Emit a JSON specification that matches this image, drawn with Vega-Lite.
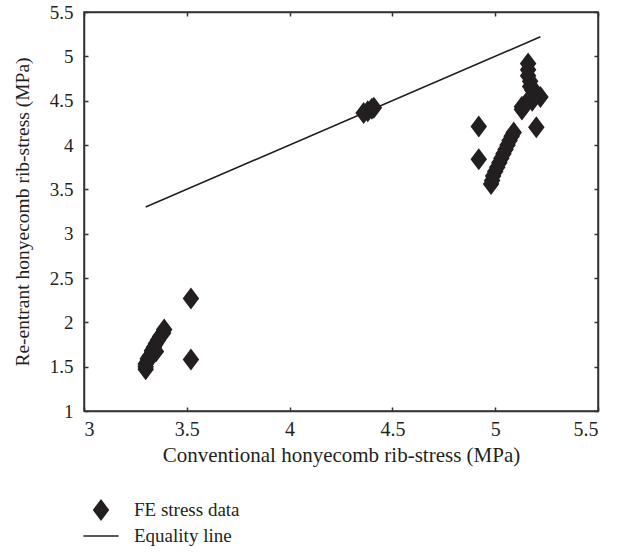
{
  "$schema": "https://vega.github.io/schema/vega-lite/v6.json",
  "width": 514,
  "height": 399,
  "autosize": "none",
  "padding": {"left": 84, "top": 12, "right": 28, "bottom": 141},
  "background": "white",
  "config": {
    "view": {"stroke": "#333333", "strokeWidth": 1.5},
    "font": "Liberation Serif",
    "axis": {
      "labelFont": "Liberation Serif",
      "titleFont": "Liberation Serif",
      "labelFontSize": 19,
      "titleFontSize": 19,
      "labelColor": "#231f20",
      "titleColor": "#231f20",
      "titleFontWeight": "normal",
      "domainColor": "#333333",
      "domainWidth": 1.5,
      "tickColor": "#333333",
      "tickWidth": 1.5,
      "tickSize": -4,
      "grid": false,
      "format": "~g"
    }
  },
  "datasets": {
    "fe": [
      {"conv": 3.30, "reent": 1.47, "series": "FE stress data"},
      {"conv": 3.30, "reent": 1.50, "series": "FE stress data"},
      {"conv": 3.30, "reent": 1.53, "series": "FE stress data"},
      {"conv": 3.31, "reent": 1.56, "series": "FE stress data"},
      {"conv": 3.31, "reent": 1.59, "series": "FE stress data"},
      {"conv": 3.32, "reent": 1.62, "series": "FE stress data"},
      {"conv": 3.35, "reent": 1.67, "series": "FE stress data"},
      {"conv": 3.33, "reent": 1.68, "series": "FE stress data"},
      {"conv": 3.34, "reent": 1.72, "series": "FE stress data"},
      {"conv": 3.35, "reent": 1.76, "series": "FE stress data"},
      {"conv": 3.36, "reent": 1.80, "series": "FE stress data"},
      {"conv": 3.37, "reent": 1.84, "series": "FE stress data"},
      {"conv": 3.385, "reent": 1.88, "series": "FE stress data"},
      {"conv": 3.39, "reent": 1.92, "series": "FE stress data"},
      {"conv": 3.52, "reent": 2.27, "series": "FE stress data"},
      {"conv": 3.52, "reent": 1.58, "series": "FE stress data"},
      {"conv": 4.36, "reent": 4.36, "series": "FE stress data"},
      {"conv": 4.38, "reent": 4.38, "series": "FE stress data"},
      {"conv": 4.40, "reent": 4.41, "series": "FE stress data"},
      {"conv": 4.41, "reent": 4.42, "series": "FE stress data"},
      {"conv": 4.92, "reent": 4.21, "series": "FE stress data"},
      {"conv": 4.92, "reent": 3.84, "series": "FE stress data"},
      {"conv": 4.98, "reent": 3.56, "series": "FE stress data"},
      {"conv": 4.985, "reent": 3.60, "series": "FE stress data"},
      {"conv": 4.99, "reent": 3.65, "series": "FE stress data"},
      {"conv": 5.00, "reent": 3.70, "series": "FE stress data"},
      {"conv": 5.01, "reent": 3.75, "series": "FE stress data"},
      {"conv": 5.02, "reent": 3.80, "series": "FE stress data"},
      {"conv": 5.03, "reent": 3.85, "series": "FE stress data"},
      {"conv": 5.04, "reent": 3.90, "series": "FE stress data"},
      {"conv": 5.05, "reent": 3.95, "series": "FE stress data"},
      {"conv": 5.06, "reent": 4.00, "series": "FE stress data"},
      {"conv": 5.07, "reent": 4.05, "series": "FE stress data"},
      {"conv": 5.08, "reent": 4.10, "series": "FE stress data"},
      {"conv": 5.09, "reent": 4.14, "series": "FE stress data"},
      {"conv": 5.20, "reent": 4.20, "series": "FE stress data"},
      {"conv": 5.13, "reent": 4.40, "series": "FE stress data"},
      {"conv": 5.13, "reent": 4.43, "series": "FE stress data"},
      {"conv": 5.15, "reent": 4.47, "series": "FE stress data"},
      {"conv": 5.18, "reent": 4.50, "series": "FE stress data"},
      {"conv": 5.22, "reent": 4.54, "series": "FE stress data"},
      {"conv": 5.20, "reent": 4.58, "series": "FE stress data"},
      {"conv": 5.18, "reent": 4.62, "series": "FE stress data"},
      {"conv": 5.17, "reent": 4.66, "series": "FE stress data"},
      {"conv": 5.17, "reent": 4.72, "series": "FE stress data"},
      {"conv": 5.16, "reent": 4.78, "series": "FE stress data"},
      {"conv": 5.16, "reent": 4.85, "series": "FE stress data"},
      {"conv": 5.16, "reent": 4.92, "series": "FE stress data"}
    ],
    "eq": [
      {"conv": 3.30, "reent": 3.30},
      {"conv": 5.22, "reent": 5.22}
    ]
  },
  "layer": [
    {
      "data": {"name": "eq"},
      "mark": {"type": "line", "color": "#231f20", "strokeWidth": 1.6},
      "encoding": {
        "x": {"field": "conv", "type": "quantitative", "scale": {"domain": [3, 5.5], "nice": false, "zero": false},
              "axis": {"orient": "top", "labels": false, "title": null, "values": [3, 3.5, 4, 4.5, 5, 5.5]}},
        "y": {"field": "reent", "type": "quantitative", "scale": {"domain": [1, 5.5], "nice": false, "zero": false},
              "axis": {"orient": "right", "labels": false, "title": null, "values": [1, 1.5, 2, 2.5, 3, 3.5, 4, 4.5, 5, 5.5]}}
      }
    },
    {
      "data": {"name": "fe"},
      "mark": {"type": "point", "filled": true, "opacity": 1, "size": 484, "color": "#231f20"},
      "encoding": {
        "x": {"field": "conv", "type": "quantitative",
              "axis": {"orient": "bottom", "title": "Conventional honyecomb rib-stress (MPa)", "values": [3, 3.5, 4, 4.5, 5, 5.5], "labelPadding": 12, "titlePadding": 5, "labelFontSize": 20, "titleFontSize": 21}},
        "y": {"field": "reent", "type": "quantitative",
              "axis": {"orient": "left", "title": "Re-entrant honyecomb rib-stress (MPa)", "values": [1, 1.5, 2, 2.5, 3, 3.5, 4, 4.5, 5, 5.5], "labelPadding": 15, "titlePadding": 17, "titleFontSize": 19.5}},
        "shape": {
          "field": "series", "type": "nominal",
          "scale": {"domain": ["FE stress data", "Equality line"], "range": ["M0,-1L0.75,0L0,1L-0.75,0Z", "M-1.6,-0.06L1.6,-0.06L1.6,0.06L-1.6,0.06Z"]},
          "legend": {
            "title": null,
            "orient": "none",
            "legendX": 5,
            "legendY": 486,
            "labelFont": "Liberation Serif",
            "labelFontSize": 19,
            "labelColor": "#231f20",
            "labelOffset": 21,
            "rowPadding": 0,
            "symbolSize": 484,
            "encode": {
              "symbols": {
                "update": {
                  "fill": {"value": "#231f20"},
                  "stroke": {"value": "#231f20"},
                  "strokeWidth": {"value": 0.5},
                  "opacity": {"value": 1},
                  "fillOpacity": {"value": 1},
                  "strokeOpacity": {"value": 1}
                }
              }
            }
          }
        }
      }
    }
  ]
}
